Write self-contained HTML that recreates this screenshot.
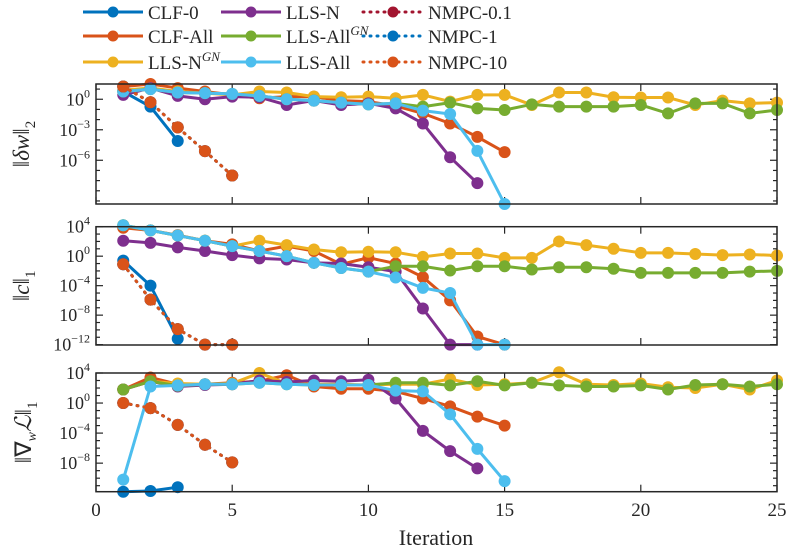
<!DOCTYPE html>
<html><head><meta charset="utf-8"><style>
html,body{margin:0;padding:0;background:#fff;}
svg{display:block;font-family:"Liberation Serif",serif;}
</style></head><body>
<svg id="chart" width="789" height="551" viewBox="0 0 789 551" xmlns="http://www.w3.org/2000/svg"></svg>
<script>
const seriesNames = ["CLF-0","CLF-All","LLS-N^GN","LLS-N","LLS-All^GN","LLS-All","NMPC-0.1","NMPC-1","NMPC-10"];
const seriesColors = ["#0072BD","#D95319","#EDB120","#7E2F8E","#77AC30","#4DBEEE","#A2142F","#0072BD","#D95319"];
const seriesDotted = [false,false,false,false,false,false,true,true,true];
const xTicks = [0,5,10,15,20,25];
// log10 values per panel, series starting at iteration 1
const p1_clf0 = [0.76,-0.73,-4.1];
const p1_clfAll = [1.25,1.5,1.1,0.76,0.43,0.1,0.26,0.26,-0.13,-0.23,-0.66,-1.39,-2.38,-3.7,-5.2];
const p1_llsNGN = [0.9,1.1,0.76,0.6,0.43,0.76,0.66,0.26,0.2,0.26,0.1,0.43,-0.23,0.43,0.43,-0.56,0.66,0.66,0.2,0.17,0.17,-0.56,-0.13,-0.4,-0.33];
const p1_llsN = [0.43,1.1,0.33,0,0.26,0.2,-0.56,-0.13,-0.56,-0.4,-0.9,-2.38,-5.7,-8.25];
const p1_llsAllGN = [0.76,1.0,0.66,0.6,0.53,0.33,0,-0.13,-0.33,-0.5,-0.4,-0.73,-0.33,-0.9,-1.06,-0.5,-0.73,-0.73,-0.73,-0.56,-1.39,-0.4,-0.4,-1.39,-1.06];
const p1_llsAll = [0.76,1.0,0.66,0.6,0.53,0.33,0,-0.13,-0.33,-0.5,-0.4,-1.12,-1.45,-5.08,-10.3];
const p1_nmpc = [1.25,-0.3,-2.77,-5.1,-7.5];
const p2_clf0 = [-0.6,-4.0,-11.2];
const p2_clfAll = [3.85,3.5,2.85,2.1,1.6,0.7,1.36,0.7,-1.1,-0.2,-1.0,-2.85,-6.0,-10.9,-12];
const p2_llsNGN = [4.2,3.5,2.8,2.1,1.36,2.1,1.5,0.9,0.54,0.6,0.54,-0.1,0.36,0.36,-0.23,-0.23,2.0,1.5,1.0,0.45,0.45,0.3,0.14,0.23,0.1];
const p2_llsN = [2.1,1.8,1.2,0.7,0.14,-0.3,-0.45,-0.9,-1.0,-1.5,-2.1,-7.1,-12,-12];
const p2_llsAllGN = [4.2,3.5,2.8,2.1,1.36,0.7,0,-0.9,-1.6,-2.1,-1.36,-1.36,-1.95,-1.36,-1.36,-1.8,-1.5,-1.5,-1.7,-2.26,-2.26,-2.26,-2.26,-2.1,-2.0];
const p2_llsAll = [4.2,3.5,2.8,2.1,1.36,0.7,0,-0.9,-1.6,-2.1,-2.9,-4.3,-5.0,-12,-12];
const p2_nmpc = [-1.1,-5.9,-9.9,-12,-12];
const p3_clf0 = [-11.8,-11.7,-11.2];
const p3_clfAll = [1.8,3.4,2.5,2.5,2.7,2.9,3.7,2.2,1.9,1.9,1.55,0.6,-0.44,-1.8,-3.0];
const p3_llsNGN = [1.8,2.9,2.6,2.5,2.6,4.0,2.6,2.5,2.5,2.4,2.5,2.5,3.2,2.4,2.5,2.7,4.1,2.5,2.4,2.6,2.1,2.0,2.5,1.8,3.0];
const p3_llsN = [1.8,2.9,2.2,2.4,2.5,3.0,2.8,3.0,2.9,3.1,0.6,-3.7,-6.4,-8.7];
const p3_llsAllGN = [1.8,2.9,2.3,2.5,2.5,2.7,2.5,2.4,2.4,2.4,2.7,2.7,2.35,2.9,2.35,2.7,2.35,2.2,2.2,2.35,1.8,2.4,2.5,2.2,2.5];
const p3_llsAll = [-10.2,2.2,2.35,2.5,2.5,2.7,2.5,2.4,2.4,2.4,1.65,1.55,-1.5,-6.1,-10.4];
const p3_nmpc = [0,-0.67,-2.9,-5.55,-7.9];
const p1_ticks = [0,-3,-6];
const p2_ticks = [4,0,-4,-8,-12];
const p3_ticks = [4,0,-4,-8];

const panels = [
  {name:"panel-delta-w", top:84, bottom:204, ymax:1.5, ymin:-10.3, ticks:p1_ticks,
   data:[p1_clf0,p1_clfAll,p1_llsNGN,p1_llsN,p1_llsAllGN,p1_llsAll,p1_nmpc,p1_nmpc,p1_nmpc], sub:"2"},
  {name:"panel-c", top:226.7, bottom:345, ymax:4, ymin:-12.05, ticks:p2_ticks,
   data:[p2_clf0,p2_clfAll,p2_llsNGN,p2_llsN,p2_llsAllGN,p2_llsAll,p2_nmpc,p2_nmpc,p2_nmpc], sub:"1"},
  {name:"panel-grad-lagrangian", top:373, bottom:491.7, ymax:4, ymin:-11.8, ticks:p3_ticks,
   data:[p3_clf0,p3_clfAll,p3_llsNGN,p3_llsN,p3_llsAllGN,p3_llsAll,p3_nmpc,p3_nmpc,p3_nmpc], sub:"1"}
];
const X0=96, X1=777;
const xs = v => X0 + (v-0)/(25-0)*(X1-X0);
const NS="http://www.w3.org/2000/svg";
const svg=document.getElementById('chart');
function mk(tag,attrs,parent){const e=document.createElementNS(NS,tag);for(const k in attrs)e.setAttribute(k,attrs[k]);(parent||svg).appendChild(e);return e;}

panels.forEach((p,pi)=>{
  const g=mk('g',{});
  
  
  const ys = v => p.top + (p.ymax-v)/(p.ymax-p.ymin)*(p.bottom-p.top);
  for(let d=Math.ceil(p.ymin); d<=Math.floor(p.ymax); d++){
    const y=ys(d); const major=p.ticks.includes(d);
    const L=major?7:4;
    mk('line',{x1:X0,x2:X0+L,y1:y,y2:y,stroke:'#262626','stroke-width':1.2},g);
    mk('line',{x1:X1,x2:X1-L,y1:y,y2:y,stroke:'#262626','stroke-width':1.2},g);
  }
  xTicks.forEach(t=>{
    mk('line',{x1:xs(t),x2:xs(t),y1:p.bottom,y2:p.bottom-7,stroke:'#262626','stroke-width':1.2},g);
    mk('line',{x1:xs(t),x2:xs(t),y1:p.top,y2:p.top+7,stroke:'#262626','stroke-width':1.2},g);
  });
  p.ticks.forEach(t=>{
    const tx=mk('text',{x:X0-6,y:ys(t)+6,'text-anchor':'end','font-size':18,fill:'#262626'},g);
    
    
    tx.textContent='10';
    const s=mk('tspan',{dy:-8,'font-size':12},tx); s.textContent=String(t).replace('-','−');
  });
  p.data.forEach((arr,si)=>{
    const sg=mk('g',{},g);
    
    
    const pts=arr.map((v,i)=>xs(i+1)+','+ys(v)).join(' ');
    mk('polyline',{points:pts,fill:'none',stroke:seriesColors[si],'stroke-width':3,'stroke-dasharray':seriesDotted[si]?'1 6':'none','stroke-linecap':seriesDotted[si]?'round':'butt'},sg);
    arr.forEach((v,i)=>mk('circle',{cx:xs(i+1),cy:ys(v),r:6,fill:seriesColors[si]},sg));
  });
  mk('rect',{x:X0,y:p.top,width:X1-X0,height:p.bottom-p.top,fill:'none',stroke:'#262626','stroke-width':1.5},g);
  const cy=(p.top+p.bottom)/2;
  const lab=mk('text',{x:0,y:0,transform:`translate(${pi==2?31:29},${cy}) rotate(-90)`,'text-anchor':'middle','font-size':23,fill:'#262626'},g);
  
  
  const a=mk('tspan',{},lab);a.textContent='‖';
  if(pi==0){const v=mk('tspan',{'font-style':'italic'},lab);v.textContent='δw';}
  else if(pi==1){const v=mk('tspan',{'font-style':'italic'},lab);v.textContent='c';}
  else{const n=mk('tspan',{},lab);n.textContent='∇';const w=mk('tspan',{dy:5,'font-size':14,'font-style':'italic'},lab);w.textContent='w';const l=mk('tspan',{dy:-5,'font-style':'italic'},lab);l.textContent='ℒ';}
  const b=mk('tspan',{},lab);b.textContent='‖';
  const sb=mk('tspan',{dy:6,'font-size':15},lab); sb.textContent=p.sub;
});
xTicks.forEach(t=>{
  const tx=mk('text',{x:xs(t),y:516,'text-anchor':'middle','font-size':19,fill:'#262626'});
  
  
  tx.textContent=t;
});
const xt=mk('text',{x:436,y:545,'text-anchor':'middle','font-size':22,fill:'#262626'});


xt.textContent='Iteration';
const legCols=[83,221,363], legRows=[12,36,62];
seriesNames.forEach((n,i)=>{
  const c=Math.floor(i/3), r=i%3;
  const lg=mk('g',{});
  
  
  const x=legCols[c], y=legRows[r];
  mk('line',{x1:x,x2:x+60,y1:y,y2:y,stroke:seriesColors[i],'stroke-width':3,'stroke-dasharray':seriesDotted[i]?'1 6':'none','stroke-linecap':seriesDotted[i]?'round':'butt'},lg);
  mk('circle',{cx:x+30,cy:y,r:5.5,fill:seriesColors[i]},lg);
  const t=mk('text',{x:x+65,y:y+7,'font-size':19,fill:'#262626'},lg);
  if(n.endsWith('^GN')){t.textContent=n.replace('^GN','');const s=mk('tspan',{dy:-8,'font-size':13,'font-style':'italic'},t);s.textContent='GN';}
  else t.textContent=n;
});
</script>
</body></html>
